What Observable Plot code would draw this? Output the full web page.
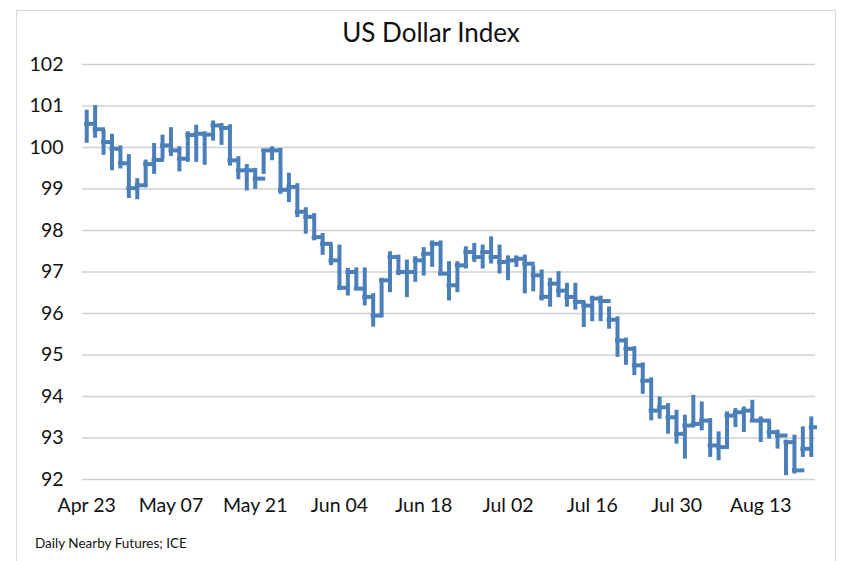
<!DOCTYPE html>
<html>
<head>
<meta charset="utf-8">
<script src="https://cdn.jsdelivr.net/npm/d3@7"></script>
<script src="https://cdn.jsdelivr.net/npm/@observablehq/plot@0.6"></script>
<style>
  html, body { margin: 0; padding: 0; background: #ffffff; }
  #wrap { position: relative; width: 851px; height: 561px; overflow: hidden; font-family: Lato, "Open Sans", sans-serif; }
  #box { position: absolute; left: 16px; top: 10px; width: 818px; height: 560px; border: 1px solid #d9d9d9; background: #fff; }
  #title { position: absolute; left: 0; width: 862px; top: 16px; text-align: center; font-size: 26px; color: #111; }
  #caption { position: absolute; left: 35px; top: 535px; font-size: 13.5px; color: #111; }
  #chart { position: absolute; left: 0; top: 0; }
</style>
</head>
<body>
<div id="wrap">
  <div id="box"></div>
  <div id="chart"></div>
  <div id="title">US Dollar Index</div>
  <div id="caption">Daily Nearby Futures; ICE</div>
</div>
<script>
// Tick labels (every 10th trading day)
const tickIndex = [0, 10, 20, 30, 40, 50, 60, 70, 80];
const tickLabels = ["Apr 23", "May 07", "May 21", "Jun 04", "Jun 18", "Jul 02", "Jul 16", "Jul 30", "Aug 13"];
const yTicks = [92, 93, 94, 95, 96, 97, 98, 99, 100, 101, 102];

// Daily high / low / close
const high = [100.85,100.96,100.37,100.27,99.99,99.78,99.2,99.65,100.05,100.25,
  100.43,99.97,100.33,100.49,100.33,100.59,100.53,100.5,99.73,99.54,
  99.45,99.9,99.97,99.93,99.33,99.08,98.5,98.36,97.88,97.6,
  97.6,97.04,97.05,97.05,96.43,96.8,97.44,97.36,97.24,97.32,
  97.54,97.7,97.7,97.2,97.2,97.56,97.64,97.6,97.8,97.6,
  97.34,97.34,97.36,97.1,97.0,96.8,96.96,96.68,96.68,96.23,
  96.37,96.37,96.11,95.87,95.36,95.15,94.76,94.4,93.94,93.78,
  93.62,93.5,93.98,93.82,93.42,93.1,93.58,93.66,93.7,93.86,
  93.46,93.38,93.14,92.9,93.02,93.22,93.46];
const low = [100.15,100.27,99.86,99.49,99.53,98.82,98.79,99.08,99.4,99.77,
  99.83,99.46,99.69,99.69,99.62,100.2,100.1,99.6,99.27,99.0,
  99.04,99.4,99.73,98.92,98.72,98.36,97.96,97.8,97.45,97.2,
  96.6,96.47,96.6,96.23,95.72,95.95,96.55,96.96,96.43,96.8,
  96.95,97.16,96.96,96.35,96.55,97.12,97.28,97.12,97.24,97.0,
  96.84,97.16,96.52,96.57,96.35,96.2,96.43,96.2,96.13,95.71,
  95.85,95.85,95.67,94.99,94.8,94.55,94.1,93.46,93.5,93.14,
  92.9,92.54,93.3,93.22,92.58,92.5,92.78,93.3,93.18,93.42,
  92.94,93.02,92.78,92.14,92.18,92.58,92.58];
const close = [100.57,100.44,100.13,99.97,99.62,99.02,99.09,99.6,99.7,100.05,
  99.93,99.73,100.3,100.33,100.31,100.53,100.47,99.69,99.45,99.45,
  99.25,99.93,99.93,98.98,99.05,98.45,98.33,97.84,97.68,97.28,
  96.62,97.0,96.6,96.4,95.95,96.8,97.36,97.0,97.0,97.28,
  97.44,97.68,96.96,96.68,97.16,97.48,97.36,97.48,97.36,97.24,
  97.28,97.32,97.2,96.92,96.4,96.72,96.55,96.4,96.28,96.19,
  96.36,96.3,95.85,95.35,95.15,94.75,94.38,93.66,93.74,93.5,
  93.1,93.3,93.34,93.42,92.82,92.78,93.54,93.62,93.66,93.42,
  93.42,93.14,93.06,92.9,92.22,92.74,93.26];

const bars = high.map((h, i) => ({ i, high: h, low: low[i], close: close[i] }));

const blue = "#4b7fb9";
const sw = 4;
const labelOf = new Map(tickIndex.map((t, k) => [t, tickLabels[k]]));

const chart = Plot.plot({
  width: 851,
  height: 561,
  marginLeft: 82,
  marginRight: 36,
  marginTop: 64,
  marginBottom: 82,
  style: { fontFamily: "Lato, 'Open Sans', sans-serif", fontSize: "19px", color: "#111", background: "transparent" },
  x: { domain: [-0.5, high.length - 0.5], axis: null },
  y: { domain: [92, 102], axis: null },
  marks: [
    Plot.gridY(yTicks, { stroke: "#d0d0d0", strokeOpacity: 1, strokeWidth: 1.5 }),
    Plot.ruleX(bars, { x: "i", y1: "low", y2: "high", stroke: blue, strokeWidth: sw, strokeLinecap: "square" }),
    // close tick joins each day's bar to the next day's bar
    Plot.ruleY(bars, { x1: "i", x2: d => Math.min(d.i + 1, high.length - 0.5), y: "close", stroke: blue, strokeWidth: sw, strokeLinecap: "square" }),
    Plot.axisY(yTicks, { tickSize: 0, tickPadding: 19, fontSize: 19.5, tickFormat: d => String(d), fill: "#111", label: null }),
    Plot.axisX(tickIndex, { tickSize: 0, tickPadding: 19, fontSize: 19.5, tickFormat: d => labelOf.get(d), fill: "#111", label: null })
  ]
});
document.getElementById("chart").appendChild(chart);
</script>
</body>
</html>
